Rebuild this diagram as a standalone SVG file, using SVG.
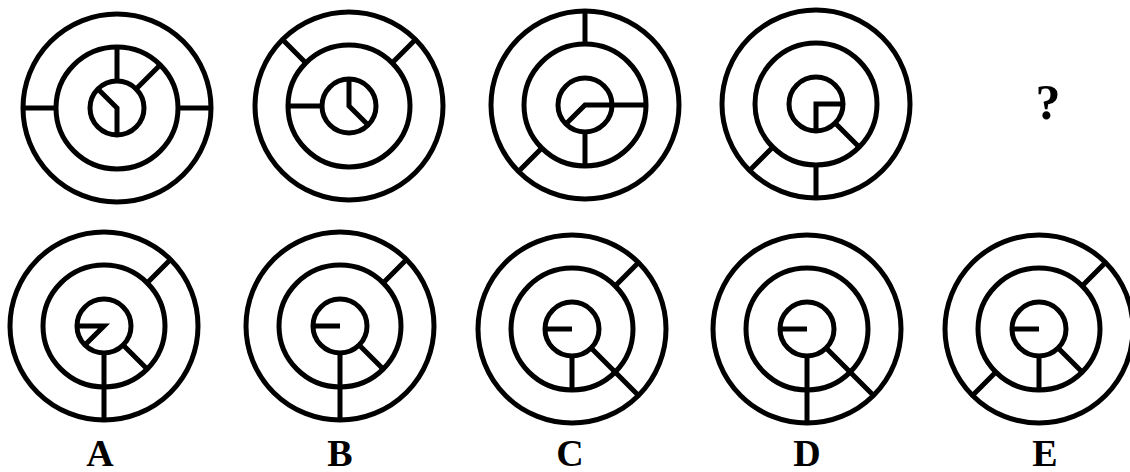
<svg xmlns="http://www.w3.org/2000/svg" xmlns:xlink="http://www.w3.org/1999/xlink" width="1130" height="472" viewBox="0 0 1130 472">
<style>
.s{fill:none;stroke:#000;stroke-width:5;stroke-linejoin:miter}
.lbl{font-family:"Liberation Serif","Times New Roman",serif;font-weight:bold;font-size:38px;text-anchor:middle;fill:#000}
.q{font-family:"Liberation Serif","Times New Roman",serif;font-weight:bold;font-size:50px;text-anchor:middle;fill:#000}
</style>
<defs>
<g id="rings" class="s">
<circle r="94"/><circle r="61"/><circle r="27"/>
</g>
</defs>
<rect width="1130" height="472" fill="#fff"/>
<g id="fig1" transform="translate(117,108)">
<use xlink:href="#rings" href="#rings"/>
<path class="s" d="M-94,0L-61,0M61,0L94,0M0,-61L0,-27M19.1,-19.1L43.1,-43.1M0,27L0,0L-19.1,-19.1"/>
</g>
<g id="fig2" transform="translate(349,106)">
<use xlink:href="#rings" href="#rings"/>
<path class="s" d="M-43.1,-43.1L-66.5,-66.5M43.1,-43.1L66.5,-66.5M-61,0L-27,0M0,-27L0,0L19.1,19.1"/>
</g>
<g id="fig3" transform="translate(585,105)">
<use xlink:href="#rings" href="#rings"/>
<path class="s" d="M0,-94L0,-61M-43.1,43.1L-66.5,66.5M-19.1,19.1L0,0L61,0M0,27L0,61"/>
</g>
<g id="fig4" transform="translate(816,104)">
<use xlink:href="#rings" href="#rings"/>
<path class="s" d="M27,0L0,0L0,27M19.1,19.1L43.1,43.1M-43.1,43.1L-66.5,66.5M0,61L0,94"/>
</g>
<text id="question" class="q" x="1048" y="119">?</text>
<g id="optA" transform="translate(104,326)">
<use xlink:href="#rings" href="#rings"/>
<path class="s" d="M43.1,-43.1L66.5,-66.5M-27,0L0,0L-19.1,19.1M19.1,19.1L43.1,43.1M0,27L0,94"/>
</g>
<g id="optB" transform="translate(340,326)">
<use xlink:href="#rings" href="#rings"/>
<path class="s" d="M43.1,-43.1L66.5,-66.5M-27,0L0,0M19.1,19.1L43.1,43.1M0,27L0,94"/>
</g>
<g id="optC" transform="translate(572,329)">
<use xlink:href="#rings" href="#rings"/>
<path class="s" d="M43.1,-43.1L66.5,-66.5M-27,0L0,0M19.1,19.1L66.5,66.5M0,27L0,61"/>
</g>
<g id="optD" transform="translate(807,329)">
<use xlink:href="#rings" href="#rings"/>
<path class="s" d="M-27,0L0,0M19.1,19.1L66.5,66.5M0,27L0,94"/>
</g>
<g id="optE" transform="translate(1039,329)">
<use xlink:href="#rings" href="#rings"/>
<path class="s" d="M43.1,-43.1L66.5,-66.5M-43.1,43.1L-66.5,66.5M-27,0L0,0M0,27L0,61M19.1,19.1L43.1,43.1"/>
</g>
<g id="labels">
<text class="lbl" x="100" y="466">A</text>
<text class="lbl" x="340" y="466">B</text>
<text class="lbl" x="570" y="466">C</text>
<text class="lbl" x="807" y="466">D</text>
<text class="lbl" x="1045" y="466">E</text>
</g>
</svg>
